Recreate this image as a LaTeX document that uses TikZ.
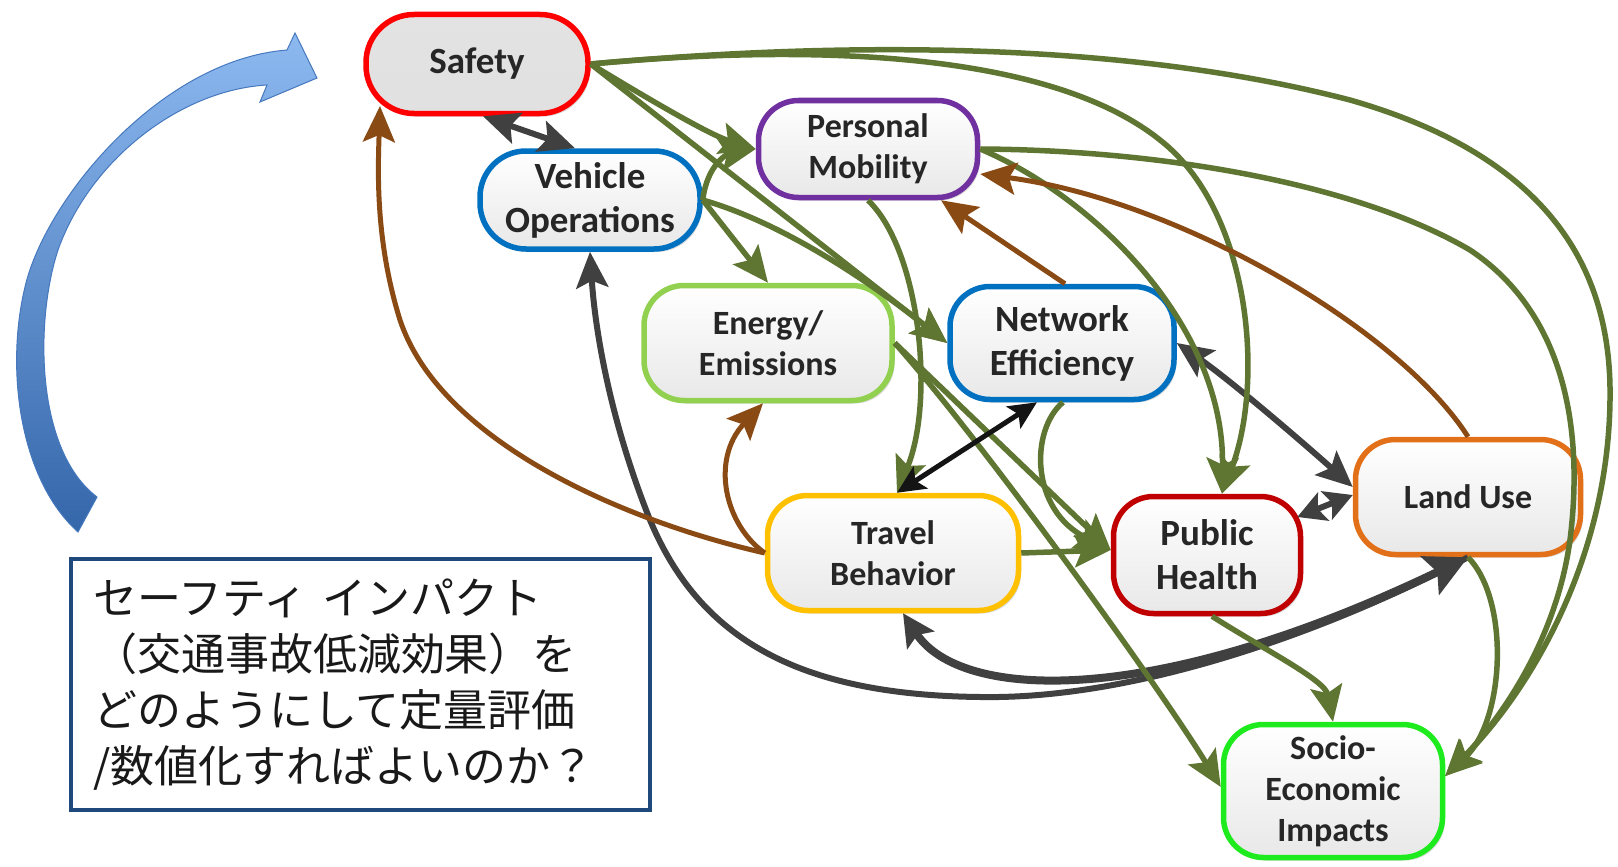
\documentclass[tikz,border=0pt]{standalone}
\usepackage{fontspec}
\newfontfamily\carlito{Carlito}
\newfontfamily\jpfont{Noto Sans CJK JP}
\usetikzlibrary{arrows.meta,shadows}
\definecolor{cgreen}{RGB}{95,117,50}
\definecolor{cbrown}{RGB}{138,74,20}
\definecolor{cgray}{RGB}{64,64,64}
\definecolor{cblack}{RGB}{20,20,20}
\definecolor{bred}{RGB}{255,0,0}
\definecolor{bblue}{RGB}{0,112,192}
\definecolor{bpurple}{RGB}{112,48,160}
\definecolor{blgreen}{RGB}{146,208,80}
\definecolor{byellow}{RGB}{255,192,0}
\definecolor{bdred}{RGB}{192,0,0}
\definecolor{borange}{RGB}{226,112,25}
\definecolor{bbgreen}{RGB}{30,235,30}
\definecolor{boxblue}{RGB}{31,73,125}
\definecolor{arrowlight}{RGB}{141,185,240}
\definecolor{arrowdark}{RGB}{52,102,170}
\definecolor{arrowedge}{RGB}{70,120,190}
\begin{document}
\begin{tikzpicture}[x=1pt,y=-1pt,
  >={Stealth[length=36pt,width=32pt,inset=7pt]},
  nb/.style={draw, line width=5.5, rounded corners=40, align=center, inner sep=0,
    text=black!85, top color=white, bottom color=black!9,
    drop shadow={shadow xshift=2.5pt, shadow yshift=-3pt, opacity=0.3, fill=black!50},
    font=\carlito\bfseries\fontsize{34}{41}\selectfont},
  big/.style={font=\carlito\bfseries\fontsize{37}{44}\selectfont},
  gn/.style={draw=cgreen, line width=5.5, ->},
  br/.style={draw=cbrown, line width=5, ->},
  gk/.style={draw=cgray, line width=6},
  bk/.style={draw=cblack, line width=5, >={Stealth[length=28pt,width=26pt,inset=6pt]}}]
\useasboundingbox (0,0) rectangle (1618,867);

% blue curved arrow
\shade[top color=arrowlight, bottom color=arrowdark, draw=arrowedge, line width=1]
 (78,532) .. controls (20,480) and (5,370) .. (25,287)
 .. controls (45,200) and (160,60) .. (287,50)
 -- (295,33) -- (317,78) -- (260,102) -- (267,85)
 .. controls (180,90) and (90,160) .. (58,250)
 .. controls (35,320) and (35,450) .. (97,497) -- cycle;

% question box
\node[draw=boxblue, line width=4, fill=white, minimum width=579, minimum height=251,
  text width=535, inner xsep=22, inner ysep=0, align=left, text=black!90,
  font=\jpfont\fontsize{44}{56}\selectfont] (q) at (360.5,684.5)
  {セーフティ インパクト\\（交通事故低減効果）を\\どのようにして定量評価\\/数値化すればよいのか？};

% nodes
\node[nb, big, draw=bred, rounded corners=48, top color=black!11, bottom color=black!12,
  minimum width=222, minimum height=99] (safety) at (477,64) {Safety};
\node[nb, big, draw=bblue, rounded corners=46, minimum width=220, minimum height=98] (vo) at (590,200) {Vehicle\\Operations};
\node[nb, draw=bpurple, minimum width=219, minimum height=97] (pm) at (868,149) {Personal\\Mobility};
\node[nb, draw=blgreen, minimum width=248, minimum height=115] (energy) at (768,343) {Energy/\\Emissions};
\node[nb, big, draw=bblue, minimum width=224, minimum height=113] (ne) at (1062,343) {Network\\Efficiency};
\node[nb, draw=byellow, minimum width=251, minimum height=115] (tb) at (893,553) {Travel\\Behavior};
\node[nb, big, draw=bdred, minimum width=187, minimum height=117] (ph) at (1207,555) {Public\\Health};
\node[nb, draw=borange, minimum width=225, minimum height=115] (lu) at (1468,497) {Land Use};
\node[nb, draw=bbgreen, minimum width=219, minimum height=133] (se) at (1333,791) {Socio-\\Economic\\Impacts};

% dark gray connectors
\draw[gk,<->] ([xshift=6]safety.south) -- ([xshift=-15]vo.north);
\draw[gk,->] (lu.south) .. controls (1350,620) and (1150,700) .. (980,697)
  .. controls (800,695) and (700,640) .. (650,520)
  .. controls (610,420) and (595,330) .. (vo.south);
\draw[gk, line width=8, {Stealth[length=32pt,width=32pt,inset=6pt]}-{Stealth[length=42pt,width=42pt,inset=8pt]}]
  ([xshift=10]tb.south) .. controls (960,700) and (1150,710) .. (lu.south);
\draw[gk,<->] (ne.east) .. controls (1230,380) and (1300,440) .. ([yshift=10]lu.west);
\draw[gk, {Stealth[length=28pt,width=30pt,inset=6pt]}-{Stealth[length=28pt,width=30pt,inset=6pt]}]
  ([shift={(-6,-38)}]ph.east) -- ([yshift=2]lu.west);

% green connectors
\draw[gn] (safety.east) .. controls (650,100) and (710,135) .. (pm.west);
\draw[gn] (vo.east) .. controls (707,165) and (727,154) .. (pm.west);
\draw[gn] (vo.east) -- (energy.north);
\draw[gn] (vo.east) .. controls (790,225) and (880,290) .. (ne.west);
\draw[gn] (safety.east) -- (ne.west);
\draw[gn] (safety.east) .. controls (800,45) and (1100,35) .. (1350,100)
  .. controls (1560,160) and (1612,280) .. (1610,400)
  .. controls (1608,560) and (1530,690) .. ([yshift=15]se.east);
\draw[gn] (safety.east) .. controls (850,40) and (1060,60) .. (1160,140)
  .. controls (1250,210) and (1265,380) .. ([xshift=15]ph.north);
\draw[gn] (pm.east) .. controls (1100,200) and (1225,330) .. ([xshift=15]ph.north);
\draw[gn] (pm.east) .. controls (1150,150) and (1350,180) .. (1470,250)
  .. controls (1560,310) and (1585,420) .. (1570,540)
  .. controls (1555,650) and (1490,730) .. ([yshift=15]se.east);
\draw[gn] (pm.south) .. controls (920,250) and (935,400) .. ([xshift=4]tb.north);
\draw[gn] (energy.east) -- ([yshift=5]ph.west);
\draw[gn] (energy.east) .. controls (984,443) and (1162,691) .. ([yshift=4]se.west);
\draw[gn] ([xshift=1]ne.south) .. controls (1030,430) and (1030,510) .. ([yshift=5]ph.west);
\draw[gn] (tb.east) -- ([yshift=5]ph.west);
\draw[gn] ([xshift=5]ph.south) .. controls (1265,650) and (1325,680) .. (se.north);
\draw[gn] (lu.south) .. controls (1510,600) and (1505,720) .. ([yshift=15]se.east);

% brown connectors
\draw[br] (tb.west) .. controls (620,520) and (440,440) .. (400,320)
  .. controls (375,240) and (378,170) .. ([shift={(-97,42)}]safety.center);
\draw[br] (tb.west) .. controls (725,525) and (710,460) .. ([xshift=-5]energy.south);
\draw[br] ([xshift=3]ne.north) -- ([xshift=73]pm.south);
\draw[br] (lu.north) .. controls (1400,330) and (1180,200) .. ([yshift=-25]pm.east);

% black connector
\draw[bk,<->] ([xshift=-25]ne.south) -- ([xshift=4]tb.north);
\end{tikzpicture}
\end{document}
